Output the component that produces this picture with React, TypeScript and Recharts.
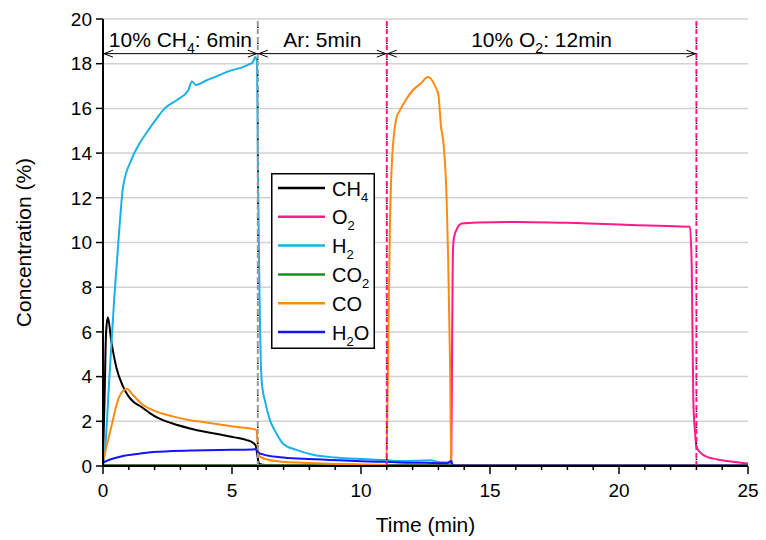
import React from 'react'
import { LineChart, Line, XAxis, YAxis, CartesianGrid, ReferenceLine } from 'recharts'

// [time (min), concentration (%)]
const ch4 = [
  [0, 0.3], [0.06, 3], [0.12, 6], [0.19, 6.65], [0.32, 5.6], [0.52, 4.4], [0.78, 3.55],
  [0.97, 3.15], [1.2, 2.85], [1.48, 2.65], [1.8, 2.38], [2.13, 2.15], [2.7, 1.9],
  [3.37, 1.68], [4, 1.52], [4.66, 1.38], [5.1, 1.28], [5.57, 1.16], [5.8, 1.05],
  [5.92, 0.92], [5.98, 0.5], [6.05, 0.1], [6.3, 0.04], [8, 0.02], [25, 0.02],
]
const o2 = [
  [0, 0.03], [13.45, 0.03], [13.5, 0.5], [13.53, 5], [13.56, 9.5], [13.6, 10.2],
  [13.76, 10.7], [13.9, 10.85], [14.5, 10.9], [16, 10.92], [18, 10.88], [20, 10.8],
  [21.5, 10.75], [22.75, 10.7], [22.82, 8.9], [22.88, 2.95], [22.95, 1.47], [23.0, 0.86],
  [23.27, 0.49], [23.78, 0.3], [24.4, 0.19], [25, 0.11],
]
const h2 = [
  [0, 0], [0.07, 0.6], [0.25, 4.0], [0.43, 7.4], [0.6, 10.1], [0.78, 12.5], [1.1, 13.7],
  [1.4, 14.4], [1.74, 15.0], [2.05, 15.5], [2.39, 16.0], [2.9, 16.4], [3.3, 16.8],
  [3.45, 17.2], [3.6, 17.05], [4.0, 17.25], [4.33, 17.4], [4.97, 17.7], [5.3, 17.8],
  [5.62, 17.95], [5.8, 18.05], [5.9, 18.3], [5.97, 18.1], [6.0, 14], [6.05, 9],
  [6.15, 3.8], [6.3, 2.8], [6.47, 2.05], [6.7, 1.5], [6.98, 1.0], [7.5, 0.72],
  [8.14, 0.5], [9, 0.38], [10.1, 0.31], [10.9, 0.27], [11.5, 0.22], [12.2, 0.24],
  [12.7, 0.26], [13.0, 0.18], [13.4, 0.15], [13.5, 0.02], [25, 0.02],
]
const co2 = [
  [0, 0.03], [25, 0.03],
]
const co = [
  [0, 0.2], [0.1, 0.7], [0.32, 1.75], [0.58, 2.95], [0.84, 3.42], [0.95, 3.45], [1.1, 3.26],
  [1.48, 2.8], [2.08, 2.43], [2.7, 2.22], [3.37, 2.05], [4.0, 1.95], [4.66, 1.83],
  [5.3, 1.73], [5.89, 1.64], [5.95, 1.6], [6.0, 0.9], [6.08, 0.42], [6.4, 0.28],
  [6.86, 0.2], [8, 0.13], [8.8, 0.1], [10, 0.07], [10.98, 0.05], [11.05, 4.7],
  [11.12, 10.7], [11.22, 14.0], [11.38, 15.6], [11.5, 15.9], [11.75, 16.4], [12.0, 16.8],
  [12.3, 17.1], [12.6, 17.4], [12.87, 17.0], [13.0, 16.6], [13.1, 15.2], [13.2, 14.4],
  [13.32, 11.9], [13.38, 9.2], [13.45, 4.7], [13.5, 0.3], [13.56, 0.02], [25, 0.02],
]
const h2o = [
  [0, 0.15], [0.3, 0.3], [0.78, 0.45], [1.4, 0.55], [2.08, 0.64], [2.7, 0.67], [3.37, 0.69],
  [4.5, 0.72], [5.8, 0.74], [5.93, 0.75], [6.0, 0.62], [6.2, 0.52], [6.86, 0.39],
  [7.8, 0.32], [8.8, 0.27], [9.8, 0.22], [10.86, 0.19], [11.5, 0.16], [12.5, 0.14],
  [13.3, 0.12], [13.45, 0.2], [13.5, 0.22], [13.55, 0.05], [13.7, 0.02], [25, 0.02],
]

const seriesNames = ['CH4', 'O2', 'H2', 'CO2', 'CO', 'H2O']
const seriesColors = ['#000000', '#FF1A8C', '#1AB0E8', '#1E8C1E', '#FF8A12', '#1414FF']
const seriesValues = [ch4, o2, h2, co2, co, h2o]

const xMinorTicks = Array.from({ length: 26 }, (_, i) => i)
const yTicks = [0, 2, 4, 6, 8, 10, 12, 14, 16, 18, 20]

const stepTimes = [6, 11, 23]
const stepColors = ['#9A9A9A', '#FF1A8C', '#FF1A8C']

const phaseStart = [0, 6, 11]
const phaseEnd = [6, 11, 23]
const phaseLabels = ['10% CH4: 6min', 'Ar: 5min', '10% O2: 12min']
const phaseArrowY = 18.45

const FONT = 'Arial, "Liberation Sans", sans-serif'

// digits right after a capital letter become subscripts
const chem = (s: string, size: number) => {
  const parts: { text: string; sub: boolean }[] = []
  for (let i = 0; i < s.length; i++) {
    const c = s[i]
    const prevSub = parts.length > 0 && parts[parts.length - 1].sub
    const sub = /\d/.test(c) && i > 0 && (/[A-Z]/.test(s[i - 1]) || (prevSub && /\d/.test(s[i - 1])))
    if (parts.length && parts[parts.length - 1].sub === sub) parts[parts.length - 1].text += c
    else parts.push({ text: c, sub })
  }
  const shift = Math.round(size * 0.3)
  let down = false
  return parts.map((p, i) => {
    let dy = 0
    if (p.sub && !down) { dy = shift; down = true }
    else if (!p.sub && down) { dy = -shift; down = false }
    return (
      <tspan key={i} dy={dy} fontSize={p.sub ? Math.round(size * 0.65) : size}>
        {p.text}
      </tspan>
    )
  })
}

const BottomTick = (props: any) => {
  const { x, y, payload } = props
  const major = payload.value % 5 === 0
  return (
    <g>
      <line x1={x} x2={x} y1={y} y2={y + (major ? 8 : 4)} stroke='#000' strokeWidth={1.5} />
      {major && (
        <text x={x} y={y + 31} textAnchor='middle' fontSize={19} fontFamily={FONT} fill='#000'>
          {payload.value}
        </text>
      )}
    </g>
  )
}

const phaseShape = (label: string) => (p: any) => {
  const { x1, x2, y1 } = p
  const y = y1
  return (
    <g>
      <line x1={x1} x2={x2} y1={y} y2={y} stroke='#000' strokeWidth={1} />
      <polyline points={`${x1 + 10},${y - 3.5} ${x1 + 1},${y} ${x1 + 10},${y + 3.5}`} fill='none' stroke='#000' strokeWidth={1} />
      <polyline points={`${x2 - 10},${y - 3.5} ${x2 - 1},${y} ${x2 - 10},${y + 3.5}`} fill='none' stroke='#000' strokeWidth={1} />
      <text x={(x1 + x2) / 2} y={y - 6.5} textAnchor='middle' fontFamily={FONT} fill='#000'>
        {chem(label, 21)}
      </text>
    </g>
  )
}

const Legend = () => (
  <svg
    width={104}
    height={176}
    style={{ position: 'absolute', left: 271, top: 173, background: '#fff' }}
  >
    <rect x={0.75} y={0.75} width={102.5} height={174.5} fill='#fff' stroke='#000' strokeWidth={1.5} />
    {seriesNames.map((name, i) => {
      const cy = 15 + i * 28.8
      return (
        <g key={name}>
          <line x1={7} x2={54} y1={cy} y2={cy} stroke={seriesColors[i]} strokeWidth={2.5} />
          <text x={61} y={cy + 7.5} fontFamily={FONT} fill='#000'>
            {chem(name, 20)}
          </text>
        </g>
      )
    })}
  </svg>
)

const App = () => {
  return (
    <div style={{ position: 'absolute', left: 0, top: 0, width: 766, height: 540, background: '#fff' }}>
      <LineChart width={766} height={540} margin={{ top: 19, right: 18, left: 0, bottom: 0 }}>
        <CartesianGrid horizontal vertical={false} stroke='#D2D2D2' strokeWidth={1.5} />
        <XAxis
          type='number'
          dataKey='t'
          domain={[0, 25]}
          ticks={xMinorTicks}
          interval={0}
          allowDataOverflow
          height={74}
          tickSize={0}
          tickMargin={0}
          tickLine={false}
          tick={<BottomTick />}
          axisLine={{ stroke: '#000', strokeWidth: 2 }}
          label={(p: any) => {
            const vb = p.viewBox
            return (
              <text x={vb.x + vb.width / 2} y={vb.y + 66} textAnchor='middle' fontSize={21} fontFamily={FONT} fill='#000'>
                Time (min)
              </text>
            )
          }}
        />
        <XAxis
          xAxisId='top'
          orientation='top'
          type='number'
          domain={[0, 25]}
          ticks={xMinorTicks}
          interval={0}
          height={0}
          mirror
          tickSize={4}
          tick={() => <g />}
          tickLine={{ stroke: '#000', strokeWidth: 1.2 }}
          axisLine={{ stroke: '#000', strokeWidth: 2 }}
        />
        <YAxis
          type='number'
          domain={[0, 20]}
          ticks={yTicks}
          interval={0}
          width={103}
          tickSize={7}
          tickMargin={4}
          tick={{ fill: '#000', fontSize: 19, fontFamily: FONT }}
          tickLine={{ stroke: '#000', strokeWidth: 1.5 }}
          axisLine={{ stroke: '#000', strokeWidth: 2 }}
          label={(p: any) => {
            const vb = p.viewBox
            const cx = 23
            const cy = vb.y + vb.height / 2
            return (
              <text
                x={cx}
                y={cy}
                transform={`rotate(-90, ${cx}, ${cy})`}
                textAnchor='middle'
                dominantBaseline='central'
                fontSize={21}
                fontFamily={FONT}
                fill='#000'
              >
                Concentration (%)
              </text>
            )
          }}
        />
        <YAxis
          yAxisId='right'
          orientation='right'
          type='number'
          domain={[0, 20]}
          ticks={yTicks}
          interval={0}
          width={0}
          mirror
          tickSize={5}
          tick={() => <g />}
          tickLine={{ stroke: '#000', strokeWidth: 1.2 }}
          axisLine={{ stroke: '#000', strokeWidth: 2 }}
        />
        {seriesNames.map((name, i) => (
          <Line
            key={name}
            name={name}
            data={seriesValues[i].map(([t, v]) => ({ t, v }))}
            dataKey='v'
            type='monotone'
            stroke={seriesColors[i]}
            strokeWidth={2}
            dot={false}
            activeDot={false}
            isAnimationActive={false}
          />
        ))}
        {stepTimes.map((t, i) => (
          <ReferenceLine
            key={'s' + t}
            x={t}
            stroke={stepColors[i]}
            strokeWidth={2}
            strokeDasharray='5 3'
            ifOverflow='visible'
          />
        ))}
        {stepTimes.map((t) => (
          <ReferenceLine
            key={'d' + t}
            x={t}
            stroke='#000'
            strokeWidth={1.5}
            strokeDasharray='1.5 14.5'
            strokeDashoffset={-6}
            ifOverflow='visible'
          />
        ))}
        {phaseLabels.map((label, i) => (
          <ReferenceLine
            key={label}
            segment={[
              { x: phaseStart[i], y: phaseArrowY },
              { x: phaseEnd[i], y: phaseArrowY },
            ]}
            ifOverflow='visible'
            shape={phaseShape(label)}
          />
        ))}
      </LineChart>
      <Legend />
    </div>
  )
}

export default App
